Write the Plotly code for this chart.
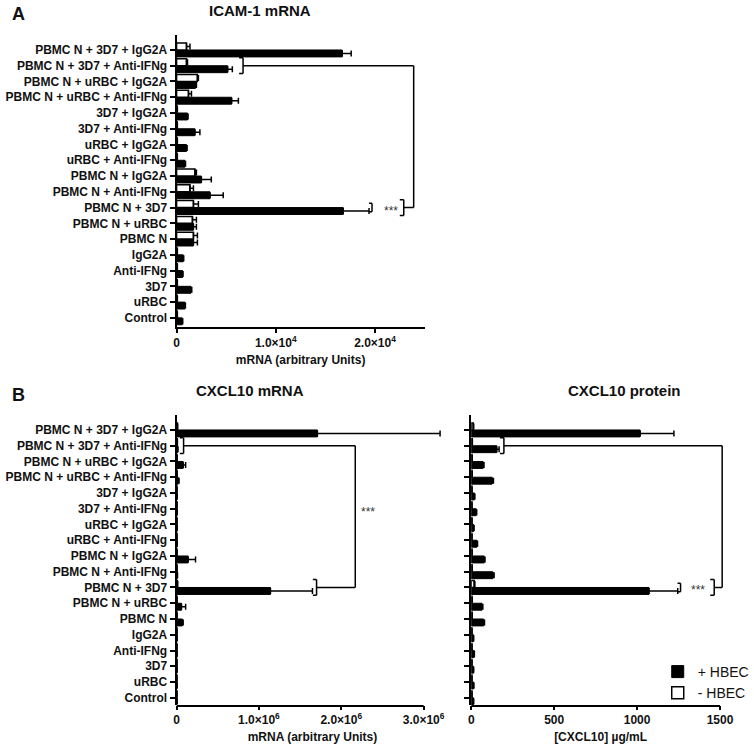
import plotly.graph_objects as go

categories = ["PBMC N + 3D7 + IgG2A", "PBMC N + 3D7 + Anti-IFNg", "PBMC N + uRBC + IgG2A",
              "PBMC N + uRBC + Anti-IFNg", "3D7 + IgG2A", "3D7 + Anti-IFNg", "uRBC + IgG2A",
              "uRBC + Anti-IFNg", "PBMC N + IgG2A", "PBMC N + Anti-IFNg", "PBMC N + 3D7",
              "PBMC N + uRBC", "PBMC N", "IgG2A", "Anti-IFNg", "3D7", "uRBC", "Control"]

# ICAM-1 mRNA (arbitrary units)
icam_plus = [16700, 5150, 1900, 5550, 1100, 1850, 1000, 840, 2500, 3370, 16800, 1700, 1700, 670, 600, 1450, 840, 570]
icam_plus_err = [900, 470, 100, 680, 60, 500, 60, 60, 1000, 1330, 2600, 300, 400, 50, 50, 80, 50, 50]
icam_minus = [1000, 1000, 2100, 1200, 60, 60, 60, 60, 1850, 1350, 1700, 1600, 1700, 60, 60, 60, 60, 60]
icam_minus_err = [350, 100, 100, 300, 20, 20, 20, 20, 150, 350, 500, 400, 400, 20, 20, 20, 20, 20]

# CXCL10 mRNA (arbitrary units)
cxm_plus = [1710000, 12000, 80000, 20000, 6000, 6000, 6000, 6000, 140000, 8000, 1140000, 60000, 70000, 5000, 5000, 5000, 5000, 5000]
cxm_plus_err = [1490000, 5000, 30000, 10000, 2000, 2000, 2000, 2000, 90000, 3000, 510000, 50000, 10000, 2000, 2000, 2000, 2000, 2000]
cxm_minus = [10000, 8000, 5000, 5000, 4000, 4000, 4000, 4000, 5000, 5000, 10000, 5000, 5000, 4000, 4000, 4000, 4000, 4000]
cxm_minus_err = [3000, 2000, 1000, 1000, 1000, 1000, 1000, 1000, 1000, 1000, 3000, 1000, 1000, 1000, 1000, 1000, 1000, 1000]

# CXCL10 protein (ug/mL)
cxp_plus = [1018, 154, 72, 126, 20, 30, 15, 35, 78, 130, 1072, 65, 75, 14, 18, 14, 15, 14]
cxp_plus_err = [204, 14, 5, 8, 2, 3, 2, 3, 5, 8, 173, 5, 5, 1, 1, 1, 1, 1]
cxp_minus = [12, 6, 5, 5, 4, 4, 4, 4, 5, 5, 18, 5, 5, 4, 4, 4, 4, 4]
cxp_minus_err = [3, 1, 1, 1, 1, 1, 1, 1, 1, 1, 4, 1, 1, 1, 1, 1, 1, 1]

W, H = 754, 748
FONT = "Arial, Liberation Sans, sans-serif"
n = len(categories)

def px_x(p):
    return p / W

def px_y(p):
    return 1 - p / H

fig = go.Figure()

def add_pair(xa, ya, plus, plus_err, minus, minus_err, legend):
    fig.add_trace(go.Bar(
        y=categories, x=plus, orientation="h", name="+ HBEC",
        marker=dict(color="black", line=dict(color="black", width=1)),
        error_x=dict(type="data", array=plus_err, arrayminus=[0] * n, symmetric=False,
                     color="black", thickness=1.5, width=3),
        xaxis=xa, yaxis=ya, showlegend=legend, offsetgroup="plus"))
    fig.add_trace(go.Bar(
        y=categories, x=minus, orientation="h", name="- HBEC",
        marker=dict(color="white", line=dict(color="black", width=1.5)),
        error_x=dict(type="data", array=minus_err, arrayminus=[0] * n, symmetric=False,
                     color="black", thickness=1.5, width=3),
        xaxis=xa, yaxis=ya, showlegend=legend, offsetgroup="minus"))

add_pair("x", "y", icam_plus, icam_plus_err, icam_minus, icam_minus_err, True)
add_pair("x2", "y2", cxm_plus, cxm_plus_err, cxm_minus, cxm_minus_err, False)
add_pair("x3", "y3", cxp_plus, cxp_plus_err, cxp_minus, cxp_minus_err, False)

bold = dict(family=FONT, size=12, color="#111", weight="bold")

def xax(domain, rng, tickvals, ticktext, title, anchor, showline):
    return dict(domain=domain, range=rng, anchor=anchor, showline=showline, linewidth=2,
                linecolor="black", ticks="outside", ticklen=4, tickwidth=2, tickcolor="black",
                tickvals=tickvals, ticktext=ticktext, tickfont=bold, showgrid=False,
                zeroline=False, automargin=False,
                title=dict(text=title, font=bold, standoff=6), fixedrange=True)

def yax(domain, rng, anchor, labels):
    return dict(domain=domain, range=rng, anchor=anchor, type="category",
                categoryarray=categories[::-1], showline=True, linewidth=2, linecolor="black",
                ticks="outside", ticklen=5, tickwidth=1.5, tickcolor="black",
                showticklabels=labels, tickfont=bold, showgrid=False, zeroline=False,
                automargin=False, fixedrange=True)

# scales measured in pixels
a_dom = [px_x(178), px_x(428)]
bl_max = 3.3e6
bl_dom = [px_x(178), px_x(178 + bl_max * 83.0e-6)]
br_max = 1560
br_dom = [px_x(475), px_x(475 + br_max * 0.1672)]

sup = lambda m, e: f"{m}×10<sup>{e}</sup>"

fig.update_layout(
    xaxis=xax(a_dom, [0, 25000], [0, 10000, 20000], ["0", sup("1.0", 4), sup("2.0", 4)],
              "mRNA (arbitrary Units)", "y", True),
    yaxis=yax([px_y(327), px_y(35)], [-0.58, 17.95], "x", True),
    xaxis2=xax(bl_dom, [0, bl_max], [0, 1e6, 2e6, 3e6],
               ["0", sup("1.0", 6), sup("2.0", 6), sup("3.0", 6)],
               "mRNA (arbitrary Units)", "y2", False),
    yaxis2=yax([px_y(705), px_y(415)], [-0.46, 17.95], "x2", True),
    xaxis3=xax(br_dom, [0, br_max], [0, 500, 1000, 1500], ["0", "500", "1000", "1500"],
               "[CXCL10] µg/mL", "y3", False),
    yaxis3=yax([px_y(705), px_y(415)], [-0.46, 17.95], "x3", False),
)

fig.update_layout(
    width=W, height=H, margin=dict(l=0, r=0, t=0, b=0),
    paper_bgcolor="white", plot_bgcolor="white",
    barmode="group", bargap=0.12, bargroupgap=0,
    font=dict(family=FONT, color="#111"),
    legend=dict(x=px_x(663), y=px_y(656), xanchor="left", yanchor="top",
                font=dict(family=FONT, size=14, color="#111"), bgcolor="rgba(0,0,0,0)",
                tracegroupgap=0, itemclick=False),
)

shapes = []
def line(xr, yr, x0, y0, x1, y1, w=1.5):
    shapes.append(dict(type="line", xref=xr, yref=yr, x0=x0, y0=y0, x1=x1, y1=y1,
                       line=dict(color="black", width=w)))

def bracket(xr, yr, x, yc, half, tick):
    line(xr, yr, x, yc - half, x, yc + half)
    line(xr, yr, x - tick, yc - half, x, yc - half)
    line(xr, yr, x - tick, yc + half, x, yc + half)

pos = lambda name: n - 1 - categories.index(name)
r_top = pos("PBMC N + 3D7 + Anti-IFNg")
r_bot = pos("PBMC N + 3D7")

# axis lines for B panels (axes extend only to last tick)
line("x2", "paper", 0, px_y(705) - 0.0013, 3e6, px_y(705) - 0.0013, 2)
line("x3", "paper", 0, px_y(705) - 0.0013, 1500, px_y(705) - 0.0013, 2)

# Panel A
bracket("x", "y", 6700, r_top, 0.5, 400)
line("x", "y", 6700, r_top, 23900, r_top)
line("x", "y", 23900, r_top, 23900, r_bot)
bracket("x", "y", 22900, r_bot, 0.5, 400)
line("x", "y", 22900, r_bot, 23900, r_bot)
bracket("x", "y", 19700, r_bot, 0.27, 300)

# Panel B left
bracket("x2", "y2", 0.085e6, r_top, 0.5, 0.045e6)
line("x2", "y2", 0.085e6, r_top, 2.17e6, r_top)
line("x2", "y2", 2.17e6, r_top, 2.17e6, r_bot)
bracket("x2", "y2", 1.70e6, r_bot, 0.5, 0.045e6)
line("x2", "y2", 1.70e6, r_bot, 2.17e6, r_bot)

# Panel B right
bracket("x3", "y3", 197, r_top, 0.5, 24)
line("x3", "y3", 197, r_top, 1513, r_top)
line("x3", "y3", 1513, r_top, 1513, r_bot)
bracket("x3", "y3", 1465, r_bot, 0.5, 24)
line("x3", "y3", 1465, r_bot, 1513, r_bot)
bracket("x3", "y3", 1262, r_bot, 0.27, 18)

fig.update_layout(shapes=shapes)

ann = []
def text(xr, yr, x, y, t, size=15, weight="bold", xanchor="center", yshift=0, color="#111"):
    ann.append(dict(xref=xr, yref=yr, x=x, y=y, text=t, showarrow=False, xanchor=xanchor,
                    yanchor="middle", yshift=yshift,
                    font=dict(family=FONT, size=size, weight=weight, color=color)))

text("paper", "paper", px_x(10), px_y(14), "A", size=18, xanchor="left")
text("paper", "paper", px_x(10), px_y(395), "B", size=18, xanchor="left")
text("paper", "paper", px_x(262), px_y(11), "ICAM-1 mRNA")
text("paper", "paper", px_x(252), px_y(390), "CXCL10 mRNA")
text("paper", "paper", px_x(630), px_y(390), "CXCL10 protein")

mid = (r_top + r_bot) / 2 + 0.5
text("x", "y", 21600, r_bot, "***", size=12, weight="normal", yshift=-3, color="#333")
text("x", "y", 25300, mid, "***", size=12, weight="normal", yshift=-3, color="#333")
text("x2", "y2", 2.33e6, mid, "***", size=12, weight="normal", yshift=-3, color="#333")
text("x3", "y3", 1370, r_bot, "***", size=12, weight="normal", yshift=-3, color="#333")
text("x3", "y3", 1595, mid, "***", size=12, weight="normal", yshift=-3, color="#333")

fig.update_layout(annotations=ann)

fig.write_html("out.html", config={"displayModeBar": False},
               post_script="document.body.style.margin='0';")
